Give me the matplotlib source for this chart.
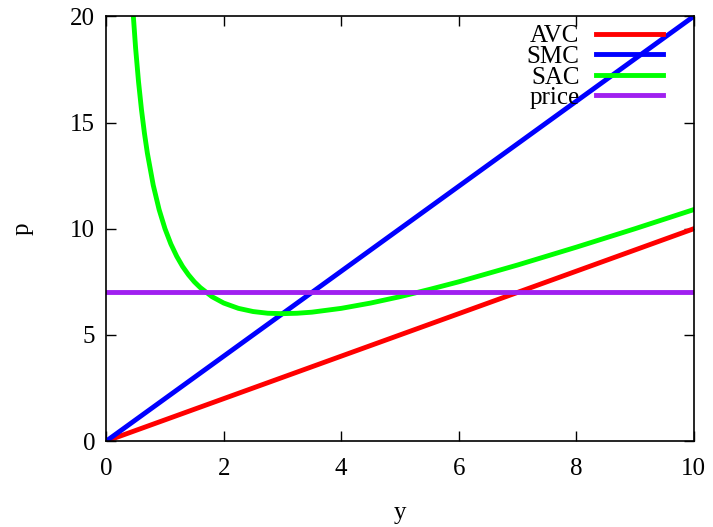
import matplotlib.pyplot as plt

# data
y_line = [0, 10]
avc = [0, 10]
smc = [0, 20]
price = [7, 7]

y_sac = [0.45, 0.5, 0.55, 0.6, 0.65, 0.7, 0.8, 0.9, 1.0, 1.1, 1.2, 1.3, 1.4, 1.5,
         1.6, 1.8, 2.0, 2.25, 2.5, 2.75, 3.0, 3.25, 3.5, 4.0, 4.5, 5.0, 5.5, 6.0,
         7.0, 8.0, 9.0, 10.0]
sac = [20.45, 18.5, 16.91, 15.6, 14.50, 13.56, 12.05, 10.9, 10.0, 9.28, 8.7, 8.22,
       7.83, 7.5, 7.23, 6.8, 6.5, 6.25, 6.1, 6.02, 6.0, 6.02, 6.07, 6.25, 6.5, 6.8,
       7.14, 7.5, 8.29, 9.13, 10.0, 10.9]

plt.rcParams['font.family'] = 'Liberation Serif'
plt.rcParams['font.size'] = 18

fig = plt.figure(figsize=(7.13, 5.27), dpi=100)
ax = fig.add_axes([0.149, 0.163, 0.824, 0.806])

ax.plot(y_line, avc, color='#ff0000', lw=3.5, label='AVC')
ax.plot(y_line, smc, color='#0000ff', lw=3.5, label='SMC')
ax.plot(y_sac, sac, color='#00ff00', lw=3.5, label='SAC')
ax.plot(y_line, price, color='#a020f0', lw=3.5, label='price')

ax.set_xlim(0, 10)
ax.set_ylim(0, 20)
ax.set_xticks([0, 2, 4, 6, 8, 10])
ax.set_yticks([0, 5, 10, 15, 20])
ax.tick_params(direction='in', top=True, right=True, length=7, width=1)
ax.tick_params(axis='x', pad=12)
ax.tick_params(axis='y', pad=8)
for s in ax.spines.values():
    s.set_linewidth(1.2)

ax.set_xlabel('y', labelpad=16)
ax.set_ylabel('p', labelpad=26)

ax.legend(loc='upper right', bbox_to_anchor=(663 / 713, 1 - 25 / 527),
          bbox_transform=fig.transFigure, frameon=False, markerfirst=False,
          handlelength=2.7, handletextpad=0.64, labelspacing=-0.08,
          borderaxespad=0, borderpad=0)

fig.savefig('out.png', dpi=100)
